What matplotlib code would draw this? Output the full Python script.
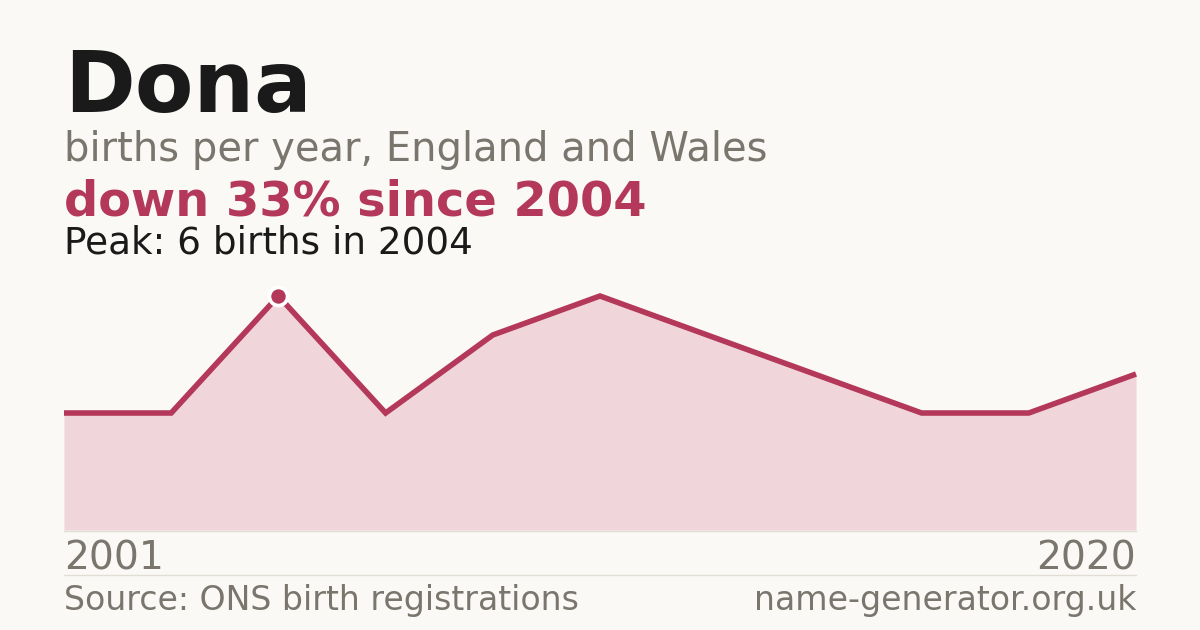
import matplotlib
matplotlib.use("Agg")
import matplotlib.pyplot as plt

# data (years with registrations, evenly spaced in the chart)
years = [2001, 2003, 2004, 2006, 2008, 2010, 2012, 2014, 2016, 2018, 2020]
births = [3, 3, 6, 3, 5, 6, 5, 4, 3, 3, 4]
peak_year = 2004
peak_value = 6

BG = "#faf9f5"
RED = "#b3385a"
FILL = "#f0d5da"
GREY = "#7a756d"
DARK = "#1a1a1a"

W, H = 1200, 630
fig = plt.figure(figsize=(12, 6.3), dpi=100, facecolor=BG)


def fx(px):
    return px / W


def fy(py):
    return 1 - py / H


# plot area: x 64..1136, y 270..530 px
ax = fig.add_axes([fx(64), fy(530), fx(1136 - 64), (530 - 270) / H])
ax.set_facecolor(BG)
idx = list(range(len(years)))
ax.fill_between(idx, births, 0, color=FILL, lw=0)
ax.plot(idx, births, color=RED, lw=4.0, solid_joinstyle="miter",
        solid_capstyle="butt", clip_on=False)
pi = years.index(peak_year)
ax.plot([pi], [peak_value], "o", ms=13, color=RED, mec="white", mew=2.6,
        clip_on=False, zorder=5)
ax.set_xlim(0, len(years) - 1)
ax.set_ylim(0, 260 / 39)
ax.axis("off")

# baseline under the area and separator above the footer
fig.add_artist(plt.Line2D([fx(64), fx(1136)], [fy(530.5), fy(530.5)], color="#e2ded6", lw=1))
fig.add_artist(plt.Line2D([fx(64), fx(1136)], [fy(574.5), fy(574.5)], color="#e2ded6", lw=1))

fig.text(fx(64), fy(112), "Dona", fontsize=61.5, fontweight="bold", color=DARK, va="baseline")
fig.text(fx(64), fy(161), "births per year, England and Wales", fontsize=28.8, color=GREY, va="baseline")
fig.text(fx(64), fy(215), "down 33% since 2004", fontsize=34.5, fontweight="bold", color=RED, va="baseline")
fig.text(fx(64), fy(253), "Peak: %d births in %d" % (peak_value, peak_year), fontsize=26.9,
         color=DARK, va="baseline")

fig.text(fx(64), fy(570), str(years[0]), fontsize=28.3, color=GREY, va="baseline")
fig.text(fx(1136), fy(570), str(years[-1]), fontsize=28.3, color=GREY, va="baseline", ha="right")
fig.text(fx(64), fy(610), "Source: ONS birth registrations", fontsize=23.9, color=GREY, va="baseline")
fig.text(fx(1136), fy(610), "name-generator.org.uk", fontsize=23.9, color=GREY, va="baseline", ha="right")

fig.savefig("out.png", dpi=100, facecolor=BG)
